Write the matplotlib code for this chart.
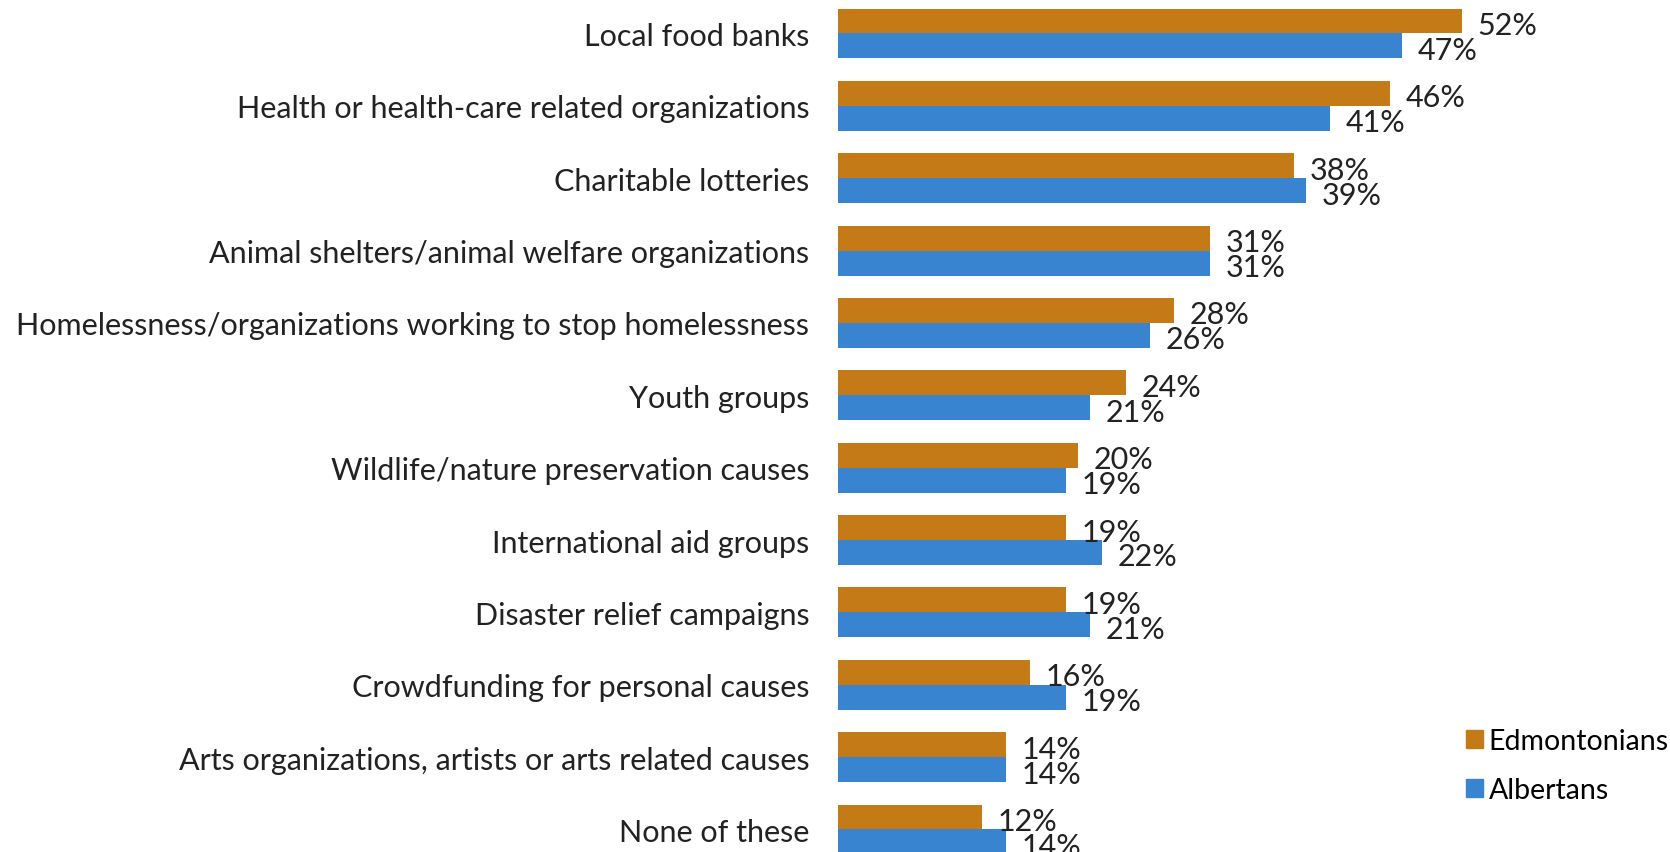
import matplotlib.pyplot as plt
from matplotlib.patches import Patch
import matplotlib.transforms as mtransforms

plt.rcParams["font.family"] = ["Lato", "DejaVu Sans"]

categories = [
    "Local food banks",
    "Health or health-care related organizations",
    "Charitable lotteries",
    "Animal shelters/animal welfare organizations",
    "Homelessness/organizations working to stop homelessness",
    "Youth groups",
    "Wildlife/nature preservation causes",
    "International aid groups",
    "Disaster relief campaigns",
    "Crowdfunding for personal causes",
    "Arts organizations, artists or arts related causes",
    "None of these",
]
edmontonians = [52, 46, 38, 31, 28, 24, 20, 19, 19, 16, 14, 12]
albertans = [47, 41, 39, 31, 26, 21, 19, 22, 21, 19, 14, 14]

ORANGE = "#C47A16"
BLUE = "#3884D0"
TEXT = "#222222"

fig = plt.figure(figsize=(16.7, 8.53), dpi=100)
ax = fig.add_axes([0.502, -0.016, 0.431, 1.018])

h = 0.345
ys = list(range(len(categories)))
ax.barh([y - h / 2 for y in ys], edmontonians, height=h, color=ORANGE)
ax.barh([y + h / 2 for y in ys], albertans, height=h, color=BLUE)

# value labels just right of each bar
off = mtransforms.offset_copy(ax.transData, fig=fig, x=15, y=-4, units="dots")
for y, e, a in zip(ys, edmontonians, albertans):
    ax.text(e, y - h / 2, f"{e}%", transform=off, va="center", ha="left",
            fontsize=22, color=TEXT)
    ax.text(a, y + h / 2, f"{a}%", transform=off, va="center", ha="left",
            fontsize=22, color=TEXT)

ax.set_xlim(0, 60)
ax.set_ylim(len(categories) - 0.5, -0.5)
ax.set_yticks(ys)
ax.set_yticklabels(categories, fontsize=22, color=TEXT)
ax.tick_params(axis="y", length=0, pad=21)
ax.set_xticks([])
for s in ax.spines.values():
    s.set_visible(False)

handles = [Patch(color=ORANGE, label="Edmontonians"),
           Patch(color=BLUE, label="Albertans")]
fig.legend(handles=handles, loc="lower right", bbox_to_anchor=(1.006, 0.044),
           frameon=False, fontsize=20.5, handlelength=0.6, handleheight=0.6,
           handletextpad=0.2, labelspacing=0.8, borderaxespad=0)

fig.savefig("out.png", dpi=100)
